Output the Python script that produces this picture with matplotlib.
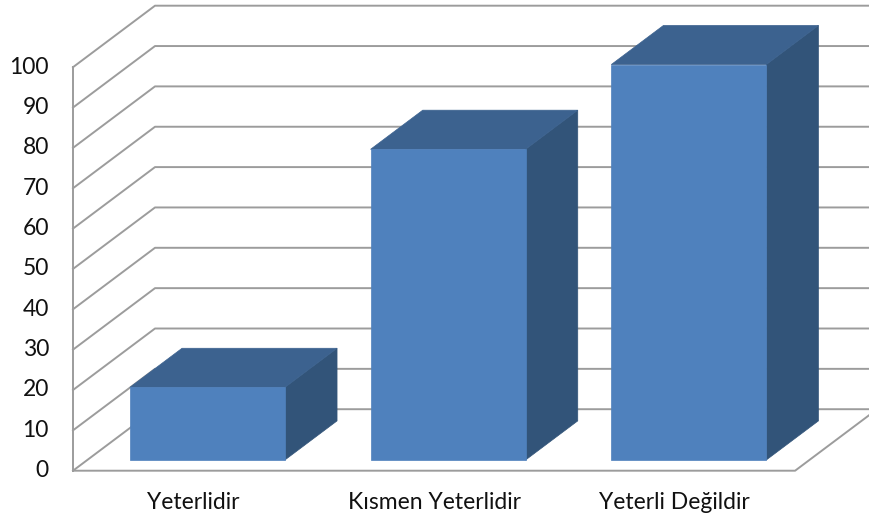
import numpy as np
import matplotlib.pyplot as plt

# ---------------------------------------------------------
# Data
# ---------------------------------------------------------

categories = ["Yeterlidir", "Kısmen Yeterlidir", "Yeterli Değildir"]
values = [18, 77, 98]
y_ticks = list(range(0, 101, 10))

# ---------------------------------------------------------
# 3D look (oblique projection)
# ---------------------------------------------------------

DX = 0.3407      # depth shift along x (category units)
DY = 15.24       # depth shift along y (value units)
BAR_W = 0.644    # bar width (category units)
BAR_OFF = 0.177  # gap before bar inside a category
D0, D1 = 0.174, 0.81   # bar depth span (0 = front, 1 = back wall)

FRONT = "#4F81BD"
TOP = "#3C628F"
SIDE = "#325479"
GRID = "#9c9c9c"


def proj(u, v, d):
    return u + d*DX, v + d*DY


def draw_bar(ax, i, val):
    u0 = i + BAR_OFF
    u1 = u0 + BAR_W

    front = [proj(u0, 0, D0), proj(u1, 0, D0), proj(u1, val, D0), proj(u0, val, D0)]
    top = [proj(u0, val, D0), proj(u1, val, D0), proj(u1, val, D1), proj(u0, val, D1)]
    side = [proj(u1, 0, D0), proj(u1, val, D0), proj(u1, val, D1), proj(u1, 0, D1)]

    for poly, col in [(side, SIDE), (top, TOP), (front, FRONT)]:
        ax.add_patch(plt.Polygon(poly, closed=True, facecolor=col,
                                 edgecolor=col, lw=0.5, zorder=3))


fig = plt.figure(figsize=(8.69, 5.28), dpi=100)
ax = fig.add_axes([0, 0, 1, 1])
ax.set_xlim(-0.3033, 3.307)
ax.set_ylim(-14.2, 116.65)
ax.axis("off")

n = len(categories)

# walls: gridlines on the left wall and back wall
for t in y_ticks:
    x0, y0 = proj(0, t, 0)
    x1, y1 = proj(0, t, 1)
    x2, y2 = proj(n, t, 1)
    ax.plot([x0, x1, x2], [y0, y1, y2], color=GRID, lw=1.4, zorder=1)

# front vertical axis line
ax.plot([0, 0], [0, y_ticks[-1]], color=GRID, lw=1.4, zorder=1)

# floor
fx = [proj(0, 0, 0)[0], proj(n, 0, 0)[0], proj(n, 0, 1)[0]]
fy = [proj(0, 0, 0)[1], proj(n, 0, 0)[1], proj(n, 0, 1)[1]]
ax.plot(fx, fy, color=GRID, lw=1.4, zorder=1)

for i, val in enumerate(values):
    draw_bar(ax, i, val)

# tick labels
for t in y_ticks:
    ax.text(-0.10, t, str(t), ha="right", va="center", fontsize=16.5,
            family="Lato", color="#111111")

for i, c in enumerate(categories):
    ax.text(i + 0.5, -8.0, c, ha="center", va="center", fontsize=16.5,
            family="Lato", color="#111111")

fig.savefig("out.png", dpi=100)
